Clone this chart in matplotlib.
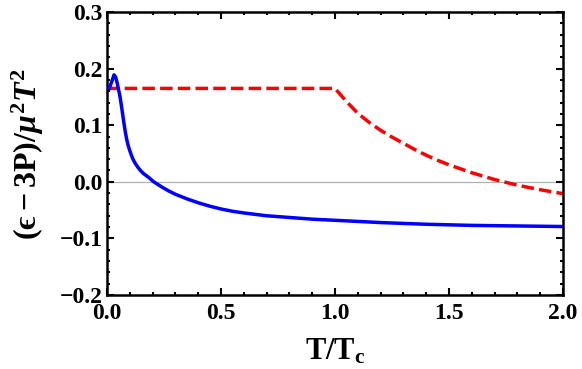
import matplotlib
matplotlib.use("Agg")
import matplotlib.pyplot as plt
from matplotlib.ticker import MultipleLocator

plt.rcParams['font.family'] = ['Liberation Serif', 'DejaVu Serif']
plt.rcParams['font.weight'] = 'bold'
plt.rcParams['mathtext.fontset'] = 'custom'
plt.rcParams['mathtext.rm'] = 'Liberation Serif:bold'
plt.rcParams['mathtext.bf'] = 'Liberation Serif:bold'
plt.rcParams['mathtext.it'] = 'Liberation Serif:italic:bold'

# blue curve
t_blue = [0.01, 0.02, 0.031, 0.038, 0.045, 0.057, 0.065, 0.072, 0.08, 0.086,
          0.093, 0.1, 0.108, 0.115, 0.125, 0.135, 0.147, 0.159, 0.172, 0.185,
          0.205, 0.24, 0.27, 0.30, 0.35, 0.40, 0.45, 0.50, 0.55, 0.60,
          0.70, 0.80, 0.90, 1.0, 1.2, 1.4, 1.6, 1.8, 2.0]
e_blue = [0.165, 0.176, 0.189, 0.185, 0.174, 0.151, 0.130, 0.110, 0.089, 0.076,
          0.064, 0.055, 0.046, 0.039, 0.032, 0.026, 0.020, 0.015, 0.011, 0.007,
          0.0, -0.009, -0.016, -0.022, -0.030, -0.037, -0.043, -0.048, -0.052, -0.055,
          -0.060, -0.063, -0.066, -0.068, -0.072, -0.075, -0.077, -0.078, -0.079]

# red dashed curve
t_red = [0.0, 1.0, 1.05, 1.1, 1.15, 1.2, 1.25, 1.3, 1.35, 1.4, 1.45, 1.5,
         1.6, 1.7, 1.8, 1.9, 2.0]
e_red = [0.165, 0.165, 0.142, 0.121, 0.105, 0.091, 0.079, 0.068, 0.057, 0.047,
         0.038, 0.030, 0.016, 0.004, -0.006, -0.014, -0.021]

fig = plt.figure(figsize=(5.82, 3.69), dpi=100)
ax = fig.add_axes([0.1838, 0.2005, 0.7836, 0.767])

ax.axhline(0, color='#b0b0b0', lw=0.9, zorder=1)
ax.plot(t_blue, e_blue, color='blue', lw=2.5, zorder=3)
ax.plot(t_red, e_red, color='red', lw=2.5, dashes=(3.6, 1.5),
        dash_capstyle='butt', zorder=2)

ax.set_xlim(0, 2.0)
ax.set_ylim(-0.2, 0.3)
ax.xaxis.set_major_locator(MultipleLocator(0.5))
ax.xaxis.set_minor_locator(MultipleLocator(0.1))
ax.yaxis.set_major_locator(MultipleLocator(0.1))
ax.yaxis.set_minor_locator(MultipleLocator(0.02))
ax.xaxis.set_major_formatter(lambda v, p: f"{v:.1f}")
ax.yaxis.set_major_formatter(lambda v, p: f"{v:.1f}".replace('-', '\u2212'))

ax.tick_params(which='both', direction='in', top=True, right=True, width=1.5,
               labelsize=17)
ax.tick_params(which='major', length=5, pad=3)
ax.tick_params(which='minor', length=2.5)
ax.tick_params(axis='x', which='major', pad=6)
for s in ax.spines.values():
    s.set_linewidth(1.8)

ax.set_xlabel(r'$\mathrm{T/T_c}$', fontsize=22, labelpad=9)
ax.set_ylabel('$\\mathrm{(\u03f5-3P)}/\\mu^2T^2$', fontsize=23, labelpad=10)

fig.savefig("out.png", dpi=100)
